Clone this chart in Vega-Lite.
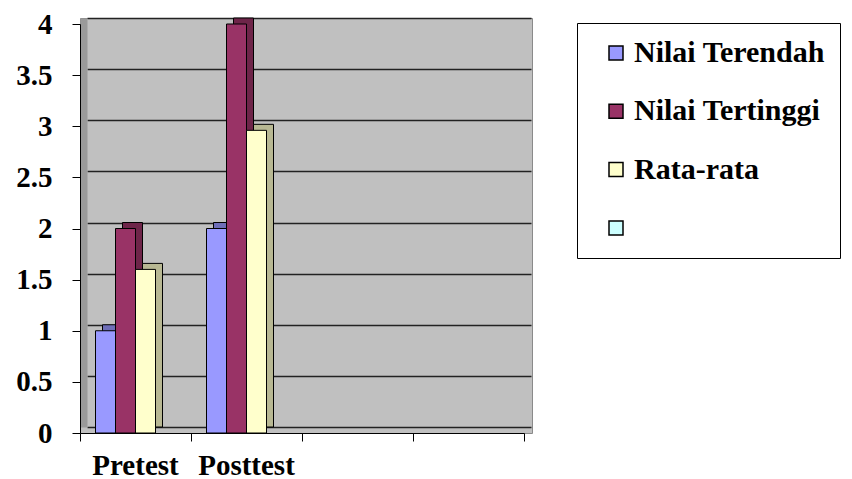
{
  "$schema": "https://vega.github.io/schema/vega-lite/v6.json",
  "width": 452,
  "height": 415,
  "autosize": "none",
  "padding": {"left": 80, "top": 18, "right": 320, "bottom": 46},
  "background": "white",
  "config": {
    "view": {"fill": "#c0c0c0", "stroke": "#8a8a8a", "strokeWidth": 1},
    "font": "Liberation Serif",
    "axis": {"labelFont": "Liberation Serif", "labelFontWeight": "bold", "labelColor": "black", "title": null},
    "legend": {"labelFont": "Liberation Serif", "labelFontWeight": "bold", "labelColor": "black"}
  },
  "data": {
    "values": [
      {"test": "Pretest", "series": "Nilai Terendah", "value": 1},
      {"test": "Pretest", "series": "Nilai Tertinggi", "value": 2},
      {"test": "Pretest", "series": "Rata-rata", "value": 1.6},
      {"test": "Posttest", "series": "Nilai Terendah", "value": 2},
      {"test": "Posttest", "series": "Nilai Tertinggi", "value": 4},
      {"test": "Posttest", "series": "Rata-rata", "value": 2.96}
    ]
  },
  "layer": [
    {
      "description": "Depth faces of the columns, drawn on the back-wall coordinate system",
      "mark": {"type": "bar", "stroke": "black", "strokeWidth": 1},
      "encoding": {
        "x": {
          "field": "test", "type": "nominal", "sort": null,
          "scale": {"domain": ["Pretest", "Posttest", " ", "  "], "range": [7, 451], "paddingInner": 0, "paddingOuter": 0},
          "axis": null
        },
        "xOffset": {
          "field": "series", "type": "nominal", "sort": null,
          "scale": {"domain": ["Nilai Terendah", "Nilai Tertinggi", "Rata-rata", " "], "paddingInner": 0, "paddingOuter": 0.775}
        },
        "y": {
          "field": "value", "type": "quantitative",
          "scale": {"domain": [0, 4], "range": [409, 0], "nice": false},
          "axis": {
            "orient": "left", "offset": -3.5, "values": [0, 0.5, 1, 1.5, 2, 2.5, 3, 3.5, 4],
            "grid": true, "gridColor": "#222222", "gridWidth": 1.6,
            "labels": false, "ticks": false,
            "domain": true, "domainColor": "#9a9a9a", "domainWidth": 7, "zindex": 0
          }
        },
        "fill": {
          "field": "series", "type": "nominal",
          "scale": {"range": ["#6e6eb8", "#6e2549", "#b8b893"]},
          "legend": null
        }
      }
    },
    {
      "description": "Front faces of the columns",
      "mark": {"type": "bar", "stroke": "black", "strokeWidth": 1},
      "encoding": {
        "x": {
          "field": "test", "type": "nominal", "sort": null,
          "scale": {"domain": ["Pretest", "Posttest", " ", "  "], "range": [0, 444], "paddingInner": 0, "paddingOuter": 0},
          "axis": {
            "orient": "bottom", "ticks": false, "domain": false, "grid": false,
            "labelAngle": 0, "labelFont": "Liberation Serif", "labelFontWeight": "bold",
            "labelFontSize": 29, "labelPadding": 41, "labelBaseline": "alphabetic"
          }
        },
        "xOffset": {
          "field": "series", "type": "nominal", "sort": null,
          "scale": {"domain": ["Nilai Terendah", "Nilai Tertinggi", "Rata-rata", " "], "paddingInner": 0, "paddingOuter": 0.775}
        },
        "y": {
          "field": "value", "type": "quantitative",
          "scale": {"domain": [0, 4], "range": [415, 6], "nice": false},
          "axis": {
            "orient": "left", "values": [0, 0.5, 1, 1.5, 2, 2.5, 3, 3.5, 4], "format": "~g",
            "grid": false, "tickSize": 8, "tickColor": "black", "tickWidth": 1,
            "domainColor": "black", "domainWidth": 1,
            "labelFontSize": 29, "labelPadding": 20, "labelBaseline": "middle", "zindex": 1
          }
        },
        "color": {
          "field": "series", "type": "nominal",
          "scale": {"domain": ["Nilai Terendah", "Nilai Tertinggi", "Rata-rata", " "], "range": ["#9999ff", "#993366", "#ffffcc", "#ccffff"]},
          "legend": {
            "orient": "none", "legendX": 497, "legendY": 5, "title": null,
            "symbolType": "square", "symbolSize": 196, "symbolStrokeColor": "black", "symbolStrokeWidth": 1.5,
            "symbolOpacity": 1, "symbolOffset": 9,
            "labelFont": "Liberation Serif", "labelFontWeight": "bold", "labelFontSize": 30, "labelColor": "black",
            "labelOffset": 3, "labelLimit": 400, "rowPadding": 28.3, "padding": 15,
            "strokeColor": "black", "fillColor": "white"
          }
        }
      }
    },
    {
      "description": "Category tick marks along the floor edge",
      "mark": {"type": "rule", "strokeOpacity": 0},
      "encoding": {
        "x": {
          "datum": 0, "type": "quantitative",
          "scale": {"domain": [0, 4], "range": [0, 444], "nice": false, "zero": false},
          "axis": {
            "orient": "bottom", "values": [0, 1, 2, 3, 4], "labels": false,
            "ticks": true, "tickSize": 8, "tickColor": "black", "tickWidth": 1,
            "domain": true, "domainColor": "black", "domainWidth": 1, "grid": false, "zindex": 1
          }
        }
      }
    }
  ],
  "resolve": {"scale": {"x": "independent", "y": "independent", "xOffset": "independent"}}
}
